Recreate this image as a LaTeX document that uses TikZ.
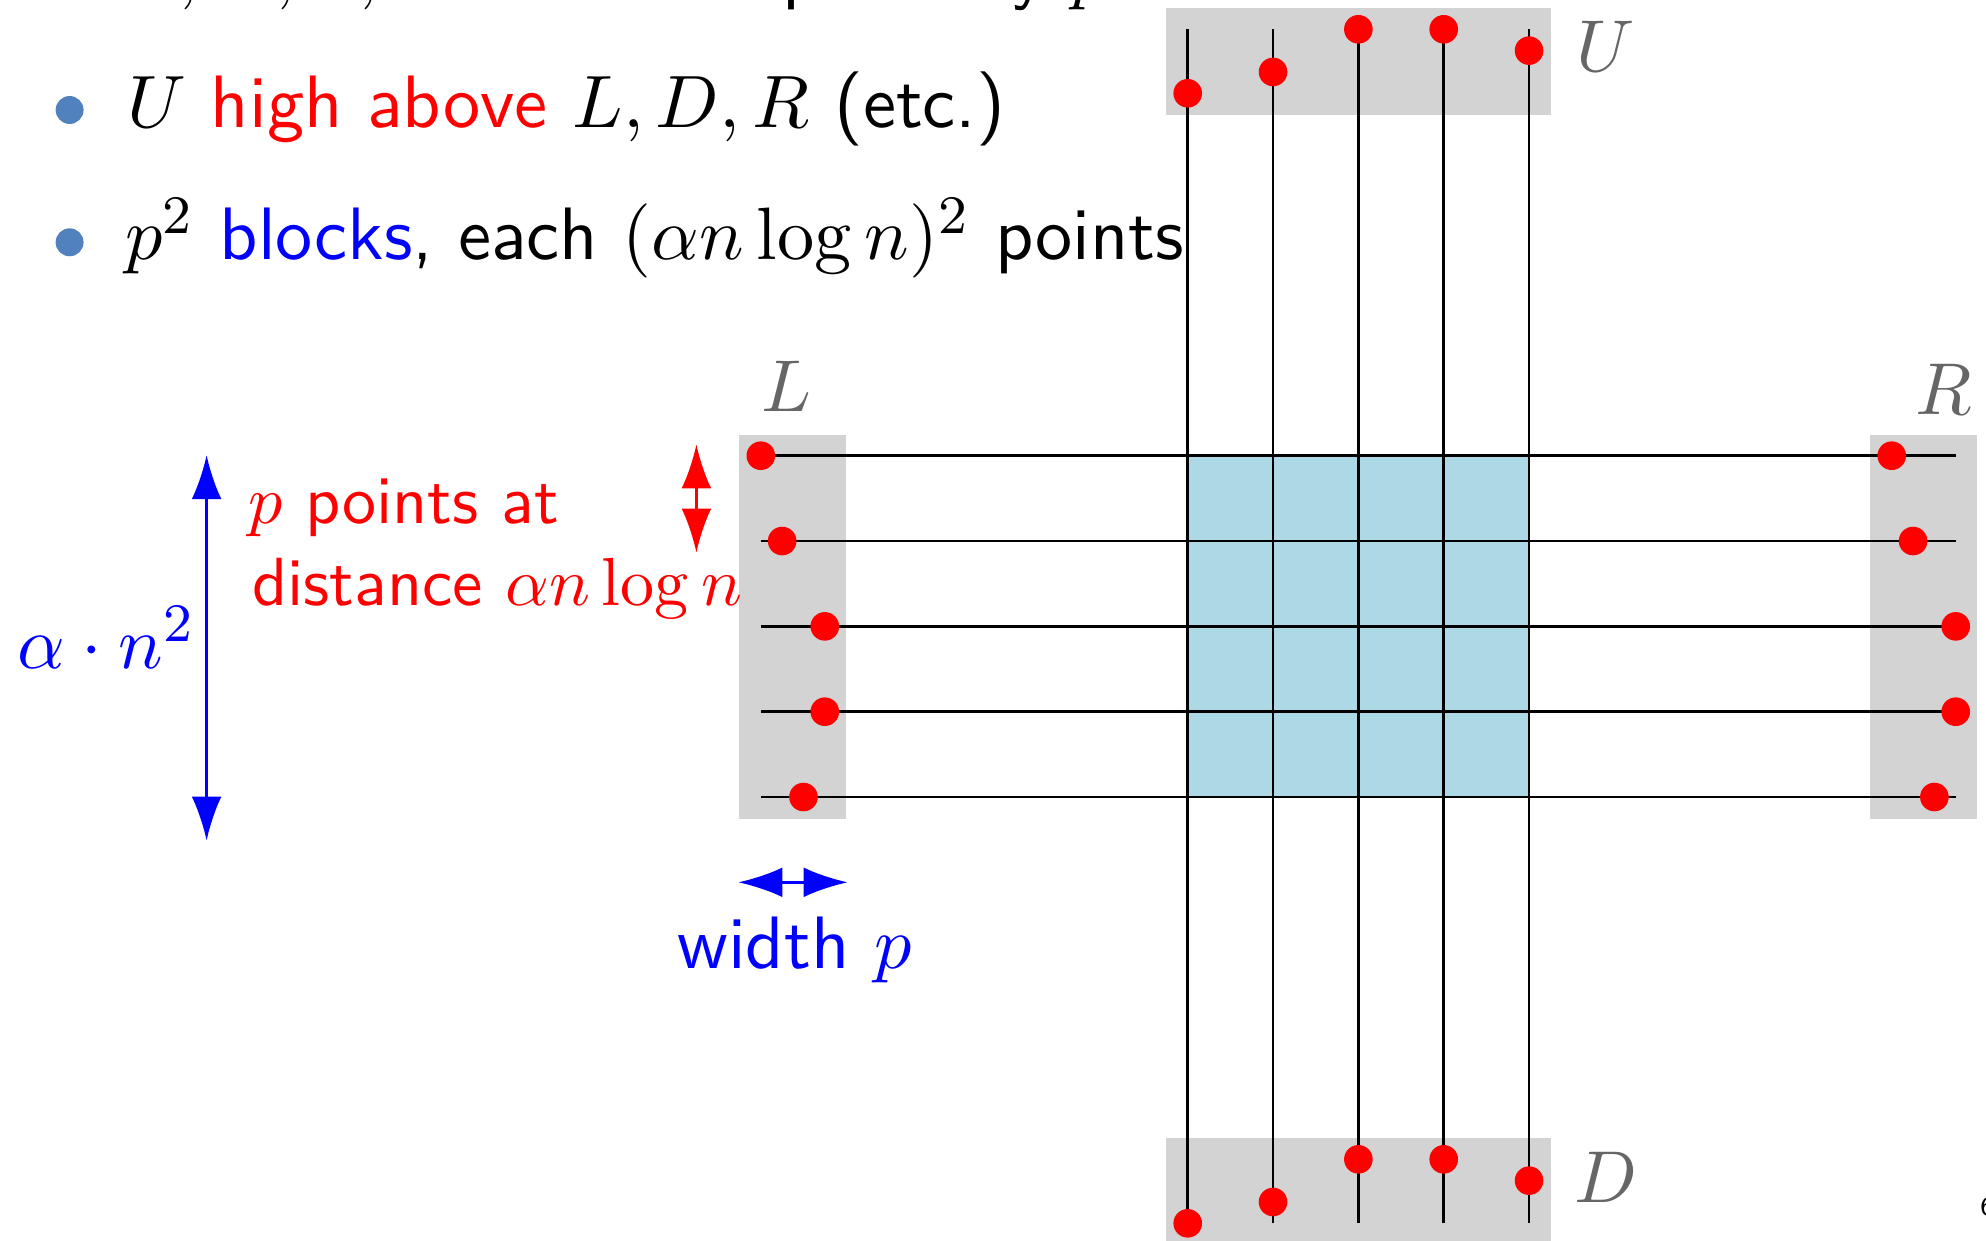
\documentclass[tikz,border=0pt]{standalone}
\usetikzlibrary{arrows.meta}
\definecolor{bulletblue}{RGB}{82,130,190}
\definecolor{boxgray}{RGB}{211,211,211}
\definecolor{blockblue}{RGB}{173,216,230}
\definecolor{labelgray}{RGB}{102,102,102}
\begin{document}
\begin{tikzpicture}[x={(0.3362pt,0pt)}, y={(0pt,-0.3362pt)},
  txt/.style={anchor=base west,inner sep=0pt,scale=2.28,font=\fontsize{10.95}{13.6}\selectfont\sffamily},
  smalltxt/.style={anchor=base west,inner sep=0pt,scale=2.29,font=\fontsize{10}{12}\selectfont\sffamily},
  lbl/.style={anchor=base west,inner sep=0pt,scale=2.257,text=labelgray,font=\fontsize{10.95}{13.6}\selectfont},
  dot/.style={circle,fill=red,inner sep=0pt,minimum size=9.62pt},
  bullet/.style={circle,fill=bulletblue,inner sep=0pt,minimum size=9.4pt},
  gridline/.style={line width=0.87pt,black},
  region/.style={fill=boxgray},
  dimarrow/.style={line width=1pt,{Latex[length=14.8pt,width=10pt]}-{Latex[length=14.8pt,width=10pt]}}
]
\useasboundingbox (0,0) rectangle (1986,1241);

% shaded regions
\fill[region] (1166,8) rectangle (1551,115);
\fill[region] (1166,1138) rectangle (1551,1250);
\fill[region] (739,435) rectangle (846,819);
\fill[region] (1870,435) rectangle (1977,819);
\fill[blockblue] (1187.7,455.7) rectangle (1529,797);

% vertical lines
\foreach \i in {0,...,4} {
  \coordinate (vt\i) at ({1187.7+85.33*\i},29.3);
  \coordinate (vb\i) at ({1187.7+85.33*\i},1223.3);
  \draw[gridline] (vt\i) -- (vb\i);
}
% horizontal lines
\foreach \j in {0,...,4} {
  \coordinate (hl\j) at (760.8,{455.7+85.33*\j});
  \coordinate (hr\j) at (1955.7,{455.7+85.33*\j});
  \draw[gridline] (hl\j) -- (hr\j);
}
% dots on U and D
\foreach \i/\a/\b in {0/3/0,1/2/1,2/0/3,3/0/3,4/1/2} {
  \node[dot] (u\i) at ({1187.7+85.33*\i},{29.3+21.33*\a}) {};
  \node[dot] (d\i) at ({1187.7+85.33*\i},{1223.3-21.33*\b}) {};
}
% dots on L and R
\foreach \j/\a/\b in {0/0/3,1/1/2,2/3/0,3/3/0,4/2/1} {
  \node[dot] (l\j) at ({760.8+21.33*\a},{455.7+85.33*\j}) {};
  \node[dot] (r\j) at ({1955.7-21.33*\b},{455.7+85.33*\j}) {};
}

% region labels
\node[lbl] (Ulab) at (1575,72) {$U$};
\node[lbl] (Dlab) at (1573,1202) {$D$};
\node[lbl] (Llab) at (760,412) {$L$};
\node[lbl] (Rlab) at (1914,414) {$R$};

% dimension arrows
\coordinate (atop) at (206.6,455);
\coordinate (abot) at (206.6,840.7);
\draw[dimarrow,blue] (atop) -- (abot);
\coordinate (rtop) at (696.4,444.3);
\coordinate (rbot) at (696.4,552.7);
\draw[dimarrow,red] (rtop) -- (rbot);
\coordinate (wl) at (738.3,882.3);
\coordinate (wr) at (847.7,882.3);
\draw[dimarrow,blue] (wl) -- (wr);

% annotations
\node[smalltxt,text=red] (pp) at (247,523) {$p$ points at};
\node[smalltxt,text=red] (dist) at (251,605) {distance $\alpha n\log n$};
\node[txt,text=blue] (alpha) at (16,668) {$\alpha\cdot n^2$};
\node[txt,text=blue] (wid) at (676,968) {width $p$};

% bullets and text
\node[txt] (top) at (126,-4) {$L, D, U, R$ are each spread by $p$};
\node[bullet] (b1) at (69.6,110) {};
\node[bullet] (b2) at (69.6,242.3) {};
\node[txt] (line1) at (126,128) {$U$ \textcolor{red}{high above} $L, D, R$ (etc.)};
\node[txt] (line2) at (124,260) {$p^2$ \textcolor{blue}{blocks}, each $(\alpha n\log n)^2$ points};

\node[anchor=base west,inner sep=0pt,scale=2.257,font=\fontsize{4}{5}\selectfont\sffamily] (pg) at (1979,1215) {6};
\end{tikzpicture}
\end{document}
